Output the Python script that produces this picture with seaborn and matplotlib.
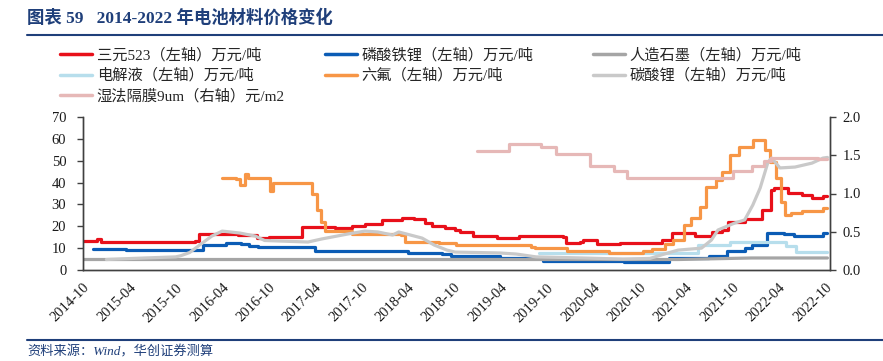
import seaborn as sns
import matplotlib.pyplot as plt
import matplotlib.dates as mdates
from matplotlib.lines import Line2D
import pandas as pd

sns.set_style("white")
plt.rcParams['font.family'] = ['Liberation Serif', 'Noto Sans CJK SC', 'DejaVu Sans']
plt.rcParams['axes.unicode_minus'] = False

# ---- data (left axis: 万元/吨, right axis: 元/m2) ----
ncm_dates = ["2014-10-01", "2014-11-15", "2014-11-25", "2014-12-10", "2015-12-15", "2016-01-01",
             "2016-06-01", "2016-08-15", "2016-10-01", "2017-01-25", "2017-02-10", "2017-06-18",
             "2017-08-25", "2017-10-15", "2017-12-20", "2018-03-10", "2018-04-28", "2018-06-08",
             "2018-07-05", "2018-08-25", "2018-10-05", "2018-10-25", "2018-12-15", "2019-03-20",
             "2019-06-01", "2019-06-15", "2019-12-03", "2019-12-15", "2020-02-10", "2020-02-20",
             "2020-04-15", "2020-07-15", "2020-12-28", "2021-02-06", "2021-05-06", "2021-07-12",
             "2021-08-20", "2021-09-12", "2021-11-18", "2022-01-25", "2022-02-28", "2022-03-15",
             "2022-05-06", "2022-07-01", "2022-08-10", "2022-09-22", "2022-10-10"]
ncm_vals = [13.3, 13.3, 14.2, 13.0, 13.3, 16.5,
            16.0, 14.6, 15.0, 15.0, 19.5, 19.2,
            20.1, 21.0, 22.9, 23.8, 23.3, 21.5,
            20.1, 19.2, 18.3, 17.4, 15.6, 14.6,
            14.6, 15.6, 15.1, 12.4, 12.6, 13.7,
            11.9, 12.4, 13.7, 16.9, 15.6, 17.4,
            18.3, 22.0, 23.3, 27.4, 36.6, 37.5,
            35.2, 34.3, 33.0, 33.9, 33.9]

lfp_dates = ["2014-11-10", "2015-03-01", "2015-03-20", "2015-12-20", "2016-01-15", "2016-04-01",
             "2016-04-15", "2016-06-15", "2016-07-15", "2016-08-20", "2017-02-15", "2017-04-01",
             "2018-02-15", "2018-04-01", "2018-07-15", "2018-08-15", "2018-09-20", "2019-04-01",
             "2019-09-15", "2020-08-01", "2020-12-31", "2021-01-25", "2021-07-01", "2021-09-10",
             "2021-11-18", "2021-12-15", "2022-02-15", "2022-04-20", "2022-06-01", "2022-08-15",
             "2022-09-22", "2022-10-10"]
lfp_vals = [9.6, 9.6, 9.1, 9.1, 11.4, 11.4,
            12.2, 12.0, 11.0, 10.5, 10.5, 8.7,
            8.7, 7.8, 7.8, 7.3, 6.2, 5.5,
            4.3, 3.7, 3.7, 5.5, 6.4, 8.7,
            10.0, 11.4, 16.9, 16.5, 15.6, 15.6,
            16.9, 16.9]

graphite_dates = ["2014-10-01", "2021-03-01", "2021-12-15", "2022-10-10"]
graphite_vals = [4.8, 4.8, 5.5, 5.5]

electrolyte_dates = ["2019-09-01", "2021-05-01", "2021-05-20", "2021-09-20", "2022-02-15",
                     "2022-05-01", "2022-06-10", "2022-10-10"]
electrolyte_vals = [7.6, 7.8, 11.4, 12.8, 12.8, 11.0, 8.2, 8.2]

lipf6_dates = ["2016-04-01", "2016-05-25", "2016-06-10", "2016-07-01", "2016-07-10", "2016-09-25",
               "2016-10-05", "2016-10-20", "2017-03-01", "2017-03-20", "2017-04-10", "2017-04-25",
               "2017-05-10", "2017-08-25", "2018-03-05", "2018-03-20", "2018-08-01", "2018-10-10",
               "2019-08-01", "2019-08-15", "2019-12-20", "2020-06-01", "2020-09-10", "2020-10-15",
               "2020-11-20", "2021-01-10", "2021-02-10", "2021-03-25", "2021-04-20", "2021-05-25",
               "2021-06-20", "2021-07-30", "2021-08-20", "2021-09-20", "2021-10-25", "2021-12-20",
               "2022-01-25", "2022-02-05", "2022-02-25", "2022-03-20", "2022-04-10", "2022-04-25",
               "2022-05-20", "2022-06-30", "2022-09-22", "2022-10-10"]
lipf6_vals = [42.0, 41.6, 39.0, 44.0, 42.0, 42.0,
              36.0, 39.8, 39.8, 35.0, 27.4, 22.0,
              17.8, 16.5, 16.0, 12.8, 12.4, 11.4,
              10.5, 10.0, 8.7, 7.8, 7.8, 8.7,
              9.6, 12.0, 13.7, 20.6, 23.8, 28.8,
              38.0, 41.0, 44.8, 52.6, 56.3, 59.5,
              59.5, 55.0, 49.4, 42.0, 31.0, 25.2,
              26.0, 27.0, 28.4, 28.4]

li2co3_dates = ["2015-01-01", "2015-02-10", "2015-06-01", "2015-10-01", "2015-10-20", "2015-11-25",
                "2016-01-10", "2016-02-20", "2016-04-01", "2016-06-10", "2016-08-10", "2016-09-15",
                "2017-03-05", "2017-04-28", "2017-08-10", "2017-10-15", "2017-12-05", "2018-02-01",
                "2018-02-25", "2018-05-28", "2018-07-15", "2018-09-03", "2018-10-05", "2019-03-28",
                "2019-06-03", "2019-08-20", "2020-02-20", "2020-07-28", "2020-11-10", "2021-01-20",
                "2021-03-01", "2021-06-01", "2021-07-10", "2021-08-05", "2021-10-10", "2021-11-18",
                "2021-12-20", "2022-01-18", "2022-02-18", "2022-03-04", "2022-04-06", "2022-06-04",
                "2022-08-10", "2022-09-22", "2022-10-10"]
li2co3_vals = [4.8, 5.0, 5.5, 6.0, 6.5, 8.0,
               12.0, 15.5, 17.8, 16.9, 15.5, 13.5,
               12.8, 14.2, 16.5, 17.8, 17.4, 16.0,
               17.4, 14.6, 11.4, 9.1, 8.2, 7.8,
               7.3, 6.0, 5.5, 5.0, 5.3, 7.8,
               9.1, 10.0, 13.7, 18.3, 21.5, 22.9,
               29.7, 37.5, 49.4, 51.2, 46.7, 47.1,
               48.9, 51.2, 51.5]

sep_dates = ["2019-01-01", "2019-05-05", "2019-09-10", "2019-11-05", "2020-03-20", "2020-06-20",
             "2020-08-10", "2021-10-05", "2021-12-15", "2022-02-01", "2022-03-01", "2022-09-01",
             "2022-10-10"]
sep_vals = [1.55, 1.65, 1.61, 1.51, 1.36, 1.30,
            1.20, 1.30, 1.36, 1.42, 1.47, 1.45, 1.45]

left_series = [
    ("三元523（左轴）万元/吨", ncm_dates, ncm_vals, "#e8101a", "steps-post"),
    ("磷酸铁锂（左轴）万元/吨", lfp_dates, lfp_vals, "#0b5cb5", "steps-post"),
    ("人造石墨（左轴）万元/吨", graphite_dates, graphite_vals, "#a5a5a5", "default"),
    ("电解液（左轴）万元/吨", electrolyte_dates, electrolyte_vals, "#b7deec", "steps-post"),
    ("六氟（左轴）万元/吨", lipf6_dates, lipf6_vals, "#f79646", "steps-post"),
    ("碳酸锂（左轴）万元/吨", li2co3_dates, li2co3_vals, "#c9c9c9", "default"),
]
sep_label = "湿法隔膜9um（右轴）元/m2"
sep_color = "#e6b8b7"

fig = plt.figure(figsize=(8.83, 3.61), dpi=100)
ax = fig.add_axes([83 / 883, 1 - 270 / 361, (830 - 83) / 883, (270 - 117) / 361])
ax2 = ax.twinx()

handles = {}
for name, d, v, c, ds in left_series:
    df = pd.DataFrame({"date": pd.to_datetime(d), "value": v})
    sns.lineplot(data=df, x="date", y="value", ax=ax, color=c, lw=2.3,
                 estimator=None, sort=False, drawstyle=ds)
    handles[name] = Line2D([], [], color=c, lw=2.5)

df = pd.DataFrame({"date": pd.to_datetime(sep_dates), "value": sep_vals})
sns.lineplot(data=df, x="date", y="value", ax=ax2, color=sep_color, lw=2.3,
             estimator=None, sort=False, drawstyle="steps-post")
handles[sep_label] = Line2D([], [], color=sep_color, lw=2.5)

# axes
ax.set_xlim(pd.Timestamp("2014-10-01"), pd.Timestamp("2022-10-20"))
ax.set_ylim(0, 70)
ax2.set_ylim(0, 2.0)
ax.set_yticks(range(0, 71, 10))
ax2.set_yticks([0, 0.5, 1.0, 1.5, 2.0])
ax2.set_yticklabels(["0.0", "0.5", "1.0", "1.5", "2.0"])
ax.xaxis.set_major_locator(mdates.MonthLocator(bymonth=[4, 10]))
ax.xaxis.set_major_formatter(mdates.DateFormatter("%Y-%m"))
ax.set_xlabel("")
ax.set_ylabel("")
ax2.set_ylabel("")

spine_c = "#404040"
for a in (ax, ax2):
    a.spines["top"].set_visible(False)
    for s in ("left", "right", "bottom"):
        a.spines[s].set_color(spine_c)
        a.spines[s].set_linewidth(1.0)
    a.tick_params(direction="out", length=4, width=1, color=spine_c,
                  labelsize=10.5, labelcolor="#1a1a1a", pad=3)
ax.tick_params(axis="x", length=5)
ax.tick_params(axis="y", left=True, pad=8)
ax2.tick_params(axis="y", right=True, pad=5)
for lab in ax.get_xticklabels():
    lab.set_rotation(45)
    lab.set_ha("right")
    lab.set_rotation_mode("anchor")

# legend: three columns placed separately
cols = [
    (60, ["三元523（左轴）万元/吨", "电解液（左轴）万元/吨", sep_label]),
    (325, ["磷酸铁锂（左轴）万元/吨", "六氟（左轴）万元/吨"]),
    (593, ["人造石墨（左轴）万元/吨", "碳酸锂（左轴）万元/吨"]),
]
for x0, names in cols:
    fig.legend([handles[n] for n in names], names, loc="upper left",
               bbox_to_anchor=(x0 / 883, 1 - 48 / 361), frameon=False,
               fontsize=11, handlelength=2.1, handletextpad=0.3,
               labelspacing=0.38, borderpad=0, borderaxespad=0)

# title, rules and source
title_c = "#1f3f7a"
fig.text(27 / 883, 1 - 18 / 361, "图表 59   2014-2022 年电池材料价格变化", fontsize=12.5,
         fontweight="bold", color=title_c, va="center", ha="left")
fig.add_artist(Line2D([27 / 883, 1], [1 - 35 / 361] * 2, color=title_c, lw=1.5))
fig.add_artist(Line2D([27 / 883, 1], [1 - 340 / 361] * 2, color=title_c, lw=1.5))
fig.text(27 / 883, 1 - 352 / 361, "资料来源：Wind，华创证券测算", fontsize=9.5,
         style="italic", color=title_c, va="center", ha="left")

fig.savefig("out.png", dpi=100)
plt.close(fig)
